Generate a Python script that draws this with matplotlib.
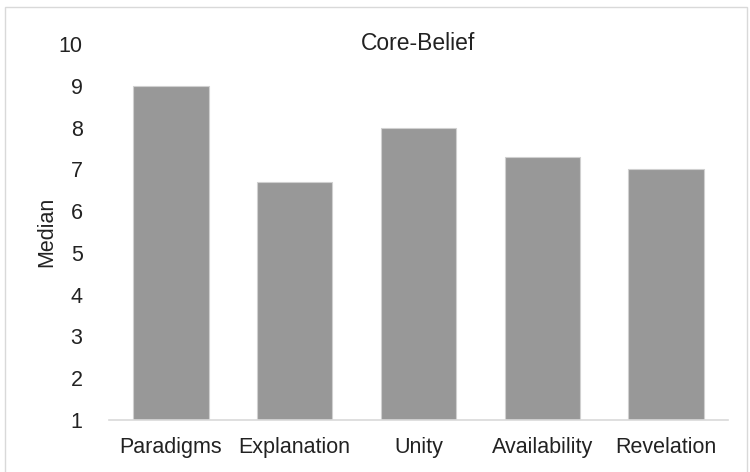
import matplotlib.pyplot as plt
from matplotlib.patches import Rectangle

plt.rcParams['font.family'] = ['Liberation Sans', 'DejaVu Sans']

categories = ['Paradigms', 'Explanation', 'Unity', 'Availability', 'Revelation']
medians = [9, 6.7, 8, 7.3, 7]
baseline = 1

fig = plt.figure(figsize=(7.5, 4.72), dpi=100)
ax = fig.add_axes([0.1453, 0.1102, 0.8254, 0.7966])

x = range(len(categories))
heights = [m - baseline for m in medians]
ax.bar(x, heights, bottom=baseline, width=0.61, color='#989898',
       edgecolor='#d0d0d0', linewidth=0.8)

ax.set_xlim(-0.5, len(categories) - 0.5)
ax.set_ylim(1, 10)
ax.set_yticks(range(1, 11))
ax.set_xticks(list(x))
ax.set_xticklabels(categories)
ax.tick_params(axis='both', length=0, labelsize=15.5, colors='#222222')
ax.tick_params(axis='y', pad=19)
ax.tick_params(axis='x', pad=12)

for s in ['top', 'right', 'left']:
    ax.spines[s].set_visible(False)
ax.spines['bottom'].set_color('#d9d9d9')
ax.spines['bottom'].set_linewidth(1.2)

ax.set_ylabel('Median', fontsize=15.5, color='#222222', labelpad=1)
ax.text(0.5, 1.0, 'Core-Belief', transform=ax.transAxes, ha='center',
        va='center', fontsize=16.5, color='#222222')

fig.patches.append(Rectangle((5 / 750, -0.01), 742 / 750, 1 - 7 / 472 + 0.01,
                             transform=fig.transFigure, fill=False,
                             edgecolor='#d9d9d9', linewidth=1.0))

fig.savefig('out.png', dpi=100)
